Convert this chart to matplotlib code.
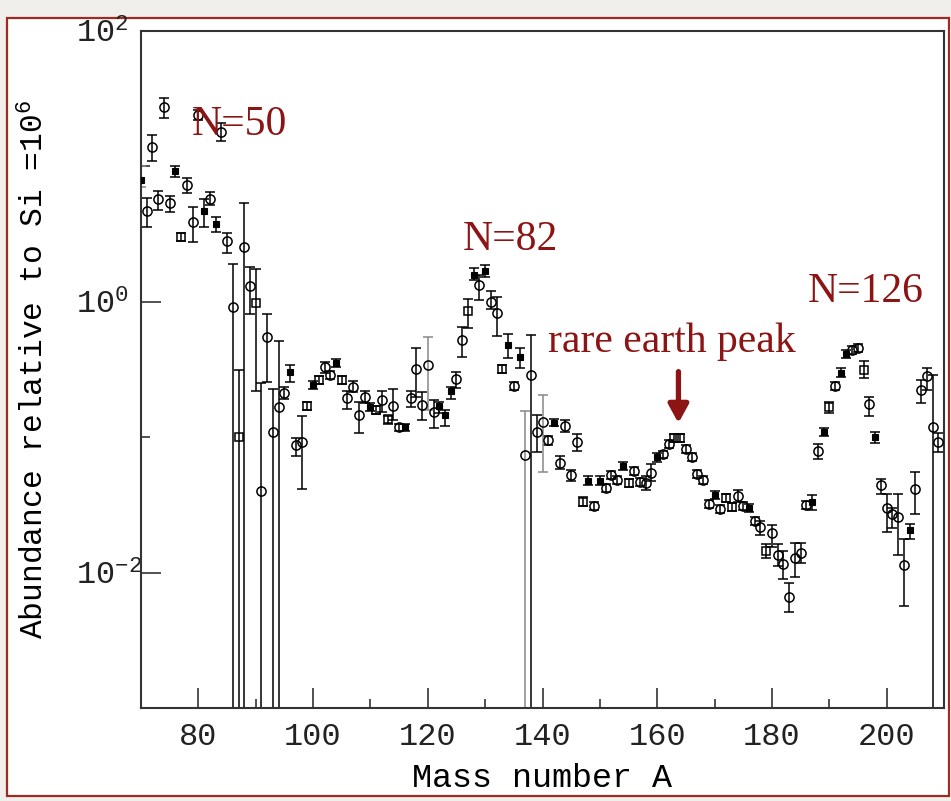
import matplotlib
matplotlib.use("Agg")
import matplotlib.pyplot as plt
import numpy as np
from matplotlib.patches import Rectangle

plt.rcParams['font.family'] = ['Liberation Mono', 'DejaVu Sans Mono']

# mass numbers A = 70 ... 209
mass = np.arange(70, 210)

# log10 abundance (Si = 1e6), 10 per row
log_ab = [
    0.90, 0.673, 1.146, 0.757, 1.436, 0.727, 0.964, 0.481, 0.863, 0.589,
    1.38, 0.673, 0.757, 0.575, 1.256, 0.447, -0.036, -1.00, 0.407, 0.117,
    -0.007, -1.40, -0.258, -0.96, -0.775, -0.671, -0.52, -1.058, -1.033, -0.77,
    -0.614, -0.578, -0.484, -0.54, -0.454, -0.578, -0.713, -0.627, -0.836, -0.70,
    -0.78, -0.80, -0.725, -0.868, -0.77, -0.927, -0.927, -0.713, -0.499, -0.76,
    -0.467, -0.812, -0.77, -0.836, -0.659, -0.57, -0.282, -0.068, 0.198, 0.124,
    0.230, 0.001, -0.08, -0.496, -0.319, -0.62, -0.405, -1.13, -0.54, -0.96,
    -0.886, -1.02, -0.893, -1.188, -0.917, -1.279, -1.033, -1.476, -1.321, -1.508,
    -1.321, -1.377, -1.279, -1.316, -1.215, -1.336, -1.247, -1.33, -1.34, -1.262,
    -1.149, -1.127, -1.05, -1.008, -1.008, -1.09, -1.144, -1.272, -1.316, -1.493,
    -1.427, -1.533, -1.451, -1.513, -1.434, -1.508, -1.525, -1.617, -1.661, -1.838,
    -1.705, -1.87, -1.937, -2.178, -1.894, -1.857, -1.50, -1.476, -1.10, -0.96,
    -0.78, -0.62, -0.524, -0.386, -0.356, -0.339, -0.504, -0.755, -1.0, -1.353,
    -1.525, -1.567, -1.592, -1.944, -1.685, -1.385, -0.651, -0.548, -0.927, -1.033,
]

# upper end of error bar (log10)
log_hi = [
    1.00, 0.77, 1.23, 0.82, 1.505, 0.78, 1.00, 0.51, 0.912, 0.70,
    1.42, 0.757, 0.81, 0.624, 1.318, 0.506, 0.277, -0.50, 0.727, 0.26,
    0.242, -0.60, -0.09, -0.646, -0.29, -0.63, -0.47, -1.006, -0.84, -0.74,
    -0.585, -0.55, -0.442, -0.51, -0.425, -0.55, -0.66, -0.583, -0.738, -0.657,
    -0.75, -0.77, -0.657, -0.84, -0.646, -0.90, -0.90, -0.657, -0.34, -0.664,
    -0.26, -0.725, -0.74, -0.80, -0.63, -0.52, -0.186, 0.018, 0.247, 0.198,
    0.272, 0.08, 0.038, -0.465, -0.238, -0.59, -0.34, -0.81, -0.245, -0.836,
    -0.688, -0.99, -0.865, -1.14, -0.87, -1.24, -0.98, -1.445, -1.29, -1.478,
    -1.29, -1.347, -1.25, -1.286, -1.185, -1.306, -1.217, -1.30, -1.29, -1.20,
    -1.12, -1.10, -1.02, -0.98, -0.98, -1.06, -1.115, -1.242, -1.286, -1.463,
    -1.397, -1.503, -1.421, -1.483, -1.39, -1.478, -1.495, -1.587, -1.62, -1.79,
    -1.65, -1.79, -1.84, -2.08, -1.78, -1.78, -1.47, -1.43, -1.05, -0.93,
    -0.74, -0.59, -0.49, -0.356, -0.326, -0.31, -0.44, -0.70, -0.96, -1.31,
    -1.42, -1.52, -1.42, -1.75, -1.64, -1.26, -0.58, -0.49, -0.54, -0.97,
]

# lower end of error bar (log10); -4 means it runs off the bottom
log_lo = [
    0.85, 0.55, 1.04, 0.68, 1.36, 0.665, 0.92, 0.45, 0.80, 0.44,
    1.34, 0.55, 0.715, 0.518, 1.19, 0.363, -4, -4, -4, -0.09,
    -0.66, -4, -0.59, -4, -4, -0.72, -0.59, -1.139, -1.38, -0.80,
    -0.645, -0.61, -0.528, -0.57, -0.485, -0.61, -0.795, -0.664, -0.971, -0.745,
    -0.81, -0.83, -0.812, -0.90, -0.873, -0.955, -0.955, -0.775, -0.70, -0.873,
    -0.80, -0.934, -0.82, -0.915, -0.72, -0.64, -0.41, -0.19, 0.16, 0.013,
    0.18, -0.05, -0.253, -0.525, -0.417, -0.65, -0.49, -4, -4, -1.107,
    -1.255, -1.06, -0.92, -1.235, -0.96, -1.32, -1.10, -1.505, -1.35, -1.538,
    -1.35, -1.407, -1.31, -1.346, -1.245, -1.366, -1.277, -1.36, -1.39, -1.32,
    -1.18, -1.155, -1.08, -1.035, -1.035, -1.12, -1.175, -1.302, -1.346, -1.523,
    -1.457, -1.563, -1.481, -1.543, -1.48, -1.538, -1.555, -1.647, -1.72, -1.89,
    -1.81, -1.95, -2.05, -2.29, -2.03, -1.93, -1.53, -1.54, -1.16, -0.99,
    -0.82, -0.65, -0.555, -0.416, -0.386, -0.37, -0.56, -0.84, -1.04, -1.42,
    -1.70, -1.67, -1.87, -2.25, -1.75, -1.57, -0.75, -0.65, -4, -1.11,
]

# O = open circle, F = filled square, Q = open square
kind = (
    "FOOOOOFQOO"
    "OFOFOOOQOO"
    "QOOOOOFOOQ"
    "FQOOFQOOOO"
    "FQOQOOFOOO"
    "OOFFFOOQFO"
    "FOOQFOFOOO"
    "OOFOOOOQFO"
    "FOOOFQOOOO"
    "FOOQQOOOOO"
    "FOQQOOFOOQ"
    "OOOOOOOFOF"
    "QOFFOOQOFO"
    "OOOOFOOOOO"
)

gray_bars = [70, 120, 137, 140]

ab = 10 ** np.array(log_ab)
hi = 10 ** np.array(log_hi)
lo = 10 ** np.array(log_lo)
kinds = np.array(list(kind))

fig = plt.figure(figsize=(9.51, 8.01), dpi=100, facecolor='#f1efeb')
fig.patches.append(Rectangle((7 / 951, 5 / 801), 942 / 951, 778 / 801,
                             transform=fig.transFigure, facecolor='white',
                             edgecolor='#9e2a22', lw=1.6, zorder=-1))

ax = fig.add_axes([141 / 951, 93 / 801, 803 / 951, 677 / 801])
ax.set_yscale('log')

gray = np.isin(mass, gray_bars)
for sel, col in [(~gray, 'black'), (gray, '#888888')]:
    ax.errorbar(mass[sel], ab[sel],
                yerr=[ab[sel] - lo[sel], hi[sel] - ab[sel]],
                fmt='none', ecolor=col, elinewidth=1.1, capsize=3.3,
                capthick=1.1, zorder=2)

m = kinds == 'O'
ax.plot(mass[m], ab[m], 'o', ms=6.6, mfc='none', mec='black', mew=1.1, zorder=3)
m = kinds == 'Q'
ax.plot(mass[m], ab[m], 's', ms=5.6, mfc='none', mec='black', mew=1.1, zorder=3)
m = kinds == 'F'
ax.plot(mass[m], ab[m], 's', ms=4.8, mfc='black', mec='black', mew=0.8, zorder=3)

ax.set_xlim(70, 210)
ax.set_ylim(1e-3, 1e2)

ax.set_xticks([80, 100, 120, 140, 160, 180, 200])
ax.set_xticks([90, 110, 130, 150, 170, 190], minor=True)
ax.set_yticks([1e-2, 1e0, 1e2])
ax.set_yticklabels([r'$\mathregular{10^{-2}}$', r'$\mathregular{10^{0}}$',
                    r'$\mathregular{10^{2}}$'])
ax.set_yticks([1e-3, 1e-1, 1e1], minor=True)
ax.yaxis.set_minor_formatter(plt.NullFormatter())

ax.tick_params(which='both', direction='in', top=False, right=False,
               width=1.1, colors='#222222', labelsize=23, pad=10)
ax.tick_params(axis='y', which='major', pad=47)
ax.tick_params(which='major', length=14.5)
ax.tick_params(which='minor', length=6.5)
for lab in ax.get_yticklabels():
    lab.set_horizontalalignment('left')
for s in ax.spines.values():
    s.set_linewidth(1.5)
    s.set_color('#333333')

ax.set_xlabel('Mass number A', fontsize=24, labelpad=8)
ax.set_ylabel(r'Abundance relative to Si =$\mathregular{10^6}$', fontsize=22.5)
ax.yaxis.set_label_coords(-0.112, 0.5)

red = '#8c1414'
txt = dict(color=red, fontsize=30, family='Liberation Serif', ha='left',
           va='baseline', zorder=5)
ax.text(78.9, 17.1, 'N=50', **txt)
ax.text(126.1, 2.42, 'N=82', **txt)
ax.text(140.9, 0.426, 'rare earth peak', **txt)
ax.text(186.2, 1.0, 'N=126', **txt)
ax.annotate('', xy=(163.7, 0.127), xytext=(163.7, 0.305),
            arrowprops=dict(arrowstyle='-|>,head_length=1.1,head_width=0.6',
                            color=red, lw=3.8, shrinkA=0, shrinkB=0),
            zorder=5)

fig.savefig('out.png', dpi=100, facecolor=fig.get_facecolor())
